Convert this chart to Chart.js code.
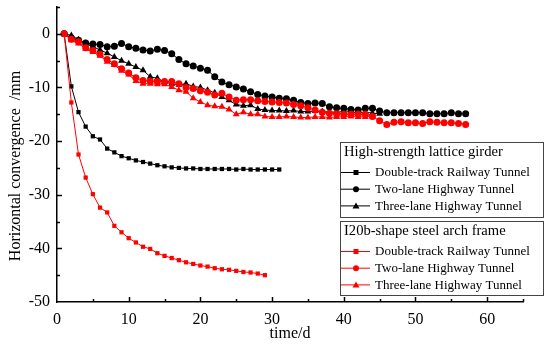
<!DOCTYPE html>
<html>
<head>
<meta charset="utf-8">
<script src="https://cdn.jsdelivr.net/npm/chart.js@4.4.1/dist/chart.umd.min.js"></script>
<style>
  html, body { margin: 0; padding: 0; background: #fff; }
  #wrap { width: 550px; height: 349px; position: relative; }
</style>
</head>
<body>
<div id="wrap"><canvas id="chart"></canvas></div>
<script>
// measured day 1, 2, 3 ... for every series
const railLattice = [0, -9.8, -14.6, -17.3, -19.1, -19.7, -21.4, -22.1, -22.8, -23.2, -23.6, -23.9, -24.2, -24.5, -24.7, -24.9,
  -25.0, -25.1, -25.1, -25.2, -25.2, -25.2, -25.2, -25.2, -25.3, -25.2, -25.3, -25.3, -25.3, -25.3, -25.3];
const twoLaneLattice = [0, -0.8, -1.2, -1.7, -1.9, -2.0, -2.4, -2.3, -1.8, -2.4, -2.7, -3.0, -3.2, -2.9, -3.1, -3.7, -4.8,
  -5.6, -6.0, -6.4, -6.8, -8.0, -9.0, -9.5, -9.9, -10.3, -10.8, -11.3, -11.6, -11.8, -12.0, -12.1, -12.4, -12.8, -13.0,
  -12.9, -13.0, -13.6, -13.8, -13.9, -14.1, -14.2, -13.9, -13.9, -14.4, -14.7, -14.7, -14.7, -14.7, -14.7, -14.7, -14.9,
  -14.9, -14.9, -14.7, -14.9, -14.9];
const threeLaneLattice = [0, -0.3, -1.1, -1.8, -2.4, -3.0, -3.6, -4.3, -5.0, -5.6, -6.2, -6.8, -8.0, -8.3, -9.0, -9.3, -9.5,
  -9.3, -9.8, -10.0, -10.5, -11.0, -11.8, -12.4, -13.2, -13.4, -13.3, -14.0, -14.2, -14.3, -14.3, -14.4, -14.3, -14.5,
  -14.5, -14.4, -14.5, -14.6, -14.6, -14.5, -14.6, -14.7, -14.6, -14.8, -14.9];
const railSteel = [0, -12.8, -22.5, -26.8, -29.9, -32.4, -33.3, -35.8, -37.0, -38.1, -38.9, -39.7, -40.1, -40.9, -41.4,
  -41.8, -42.2, -42.6, -42.9, -43.2, -43.4, -43.7, -43.9, -44.0, -44.2, -44.4, -44.5, -44.7, -45.0];
const twoLaneSteel = [0, -1.0, -1.5, -2.6, -3.1, -3.8, -4.8, -5.6, -6.5, -7.3, -8.2, -8.7, -8.8, -8.9, -8.9, -8.9, -9.3,
  -10.0, -10.2, -10.6, -10.9, -11.4, -11.1, -11.8, -12.4, -12.3, -12.3, -12.5, -12.6, -12.7, -12.8, -12.9, -13.2, -13.4,
  -13.8, -14.2, -14.6, -14.8, -14.9, -15.0, -15.0, -15.0, -15.0, -15.4, -16.2, -16.9, -16.5, -16.4, -16.6, -16.6, -16.7,
  -16.4, -16.5, -16.6, -16.6, -16.7, -16.9];
const threeLaneSteel = [0, -1.2, -1.8, -2.8, -3.4, -4.1, -5.2, -5.8, -6.9, -7.6, -8.8, -9.3, -9.3, -9.4, -9.4, -9.9, -10.5,
  -10.8, -12.0, -12.7, -13.3, -13.5, -13.6, -14.1, -15.0, -14.6, -15.0, -15.0, -15.4, -15.5, -15.5, -15.4, -15.5, -15.6,
  -15.6, -15.5, -15.5, -15.6, -15.5, -15.5, -15.4, -15.5, -15.5, -15.4];

const xTicks = [0, 10, 20, 30, 40, 50, 60];
const yTicks = [0, -10, -20, -30, -40, -50];
const groupTitles = ['High-strength lattice girder', 'I20b-shape steel arch frame'];
const seriesNames = ['Double-track Railway Tunnel', 'Two-lane Highway Tunnel', 'Three-lane Highway Tunnel'];

const serif = '"Liberation Serif", "Times New Roman", serif';
const RED = '#ff0000';

function pts(arr) { return arr.map((v, i) => ({ x: i + 1, y: v })); }

function series(label, arr, color, shape, order) {
  return {
    label: label, data: pts(arr), borderColor: color, backgroundColor: color,
    pointBackgroundColor: color, pointBorderColor: color, pointBorderWidth: 0,
    pointStyle: shape, pointRadius: shape === 'rect' ? 3 : shape === 'triangle' ? 4 : 3.5,
    borderWidth: 1, tension: 0, order: order
  };
}

function marker(ctx, shape, x, y, color) {
  ctx.fillStyle = color;
  ctx.beginPath();
  if (shape === 'rect') ctx.rect(x - 2.5, y - 2.5, 5, 5);
  else if (shape === 'circle') ctx.arc(x, y, 3, 0, Math.PI * 2);
  else { ctx.moveTo(x, y - 3.5); ctx.lineTo(x + 3.5, y + 2.5); ctx.lineTo(x - 3.5, y + 2.5); ctx.closePath(); }
  ctx.fill();
}

const decor = {
  id: 'decor',
  afterDraw(chart) {
    const ctx = chart.ctx, a = chart.chartArea, xs = chart.scales.x, ys = chart.scales.y;
    ctx.save();
    ctx.strokeStyle = '#000';
    ctx.lineWidth = 1.5;
    ctx.beginPath();
    for (let v = 5; v <= 65; v += 5) {
      const px = Math.round(xs.getPixelForValue(v)) + 0.5;
      ctx.moveTo(px, a.bottom); ctx.lineTo(px, a.bottom - (v % 10 ? 3 : 5));
    }
    for (let v = -45; v <= 5; v += 5) {
      const py = Math.round(ys.getPixelForValue(v)) + 0.5;
      ctx.moveTo(a.left, py); ctx.lineTo(a.left + (v % 10 ? 3 : 5), py);
    }
    ctx.stroke();

    // axis titles
    ctx.fillStyle = '#000';
    ctx.font = '16px ' + serif;
    ctx.textAlign = 'center';
    ctx.textBaseline = 'middle';
    ctx.fillText('time/d', (a.left + a.right) / 2, 334);
    ctx.translate(16, 166);
    ctx.rotate(-Math.PI / 2);
    ctx.fillText('Horizontal convergence  /mm', 0, 0);
    ctx.restore();

    // legend
    ctx.save();
    const boxes = [{ top: 142, bottom: 217, color: '#000' }, { top: 221, bottom: 295, color: RED }];
    const shapes = ['rect', 'circle', 'triangle'];
    boxes.forEach((b, g) => {
      ctx.strokeStyle = '#444';
      ctx.lineWidth = 1;
      ctx.strokeRect(340.5, b.top + 0.5, 203, b.bottom - b.top);
      ctx.fillStyle = '#000';
      ctx.font = '14.6px ' + serif;
      ctx.textAlign = 'left';
      ctx.textBaseline = 'middle';
      ctx.fillText(groupTitles[g], 344, b.top + 10);
      seriesNames.forEach((name, i) => {
        const y = b.top + 30.5 + i * 16.7;
        ctx.strokeStyle = b.color;
        ctx.beginPath(); ctx.moveTo(341, y); ctx.lineTo(370, y); ctx.stroke();
        marker(ctx, shapes[i], 356, y, b.color);
        ctx.fillStyle = '#000';
        ctx.font = '13px ' + serif;
        ctx.fillText(name, 375, y + 0.5);
      });
    });
    ctx.restore();
  }
};

new Chart(document.getElementById('chart'), {
  type: 'line',
  data: {
    datasets: [
      series(groupTitles[0] + ' ' + seriesNames[0], railLattice, '#000', 'rect', 1),
      series(groupTitles[0] + ' ' + seriesNames[1], twoLaneLattice, '#000', 'circle', 1),
      series(groupTitles[0] + ' ' + seriesNames[2], threeLaneLattice, '#000', 'triangle', 1),
      series(groupTitles[1] + ' ' + seriesNames[0], railSteel, RED, 'rect', 0),
      series(groupTitles[1] + ' ' + seriesNames[1], twoLaneSteel, RED, 'circle', 0),
      series(groupTitles[1] + ' ' + seriesNames[2], threeLaneSteel, RED, 'triangle', 0)
    ]
  },
  options: {
    responsive: true,
    maintainAspectRatio: false,
    animation: false,
    layout: { padding: { left: 0, right: 27, top: 7, bottom: 0 } },
    plugins: { legend: { display: false }, tooltip: { enabled: false } },
    scales: {
      x: {
        type: 'linear', min: 0, max: 65,
        afterFit: s => { s.height = 47; s.paddingLeft = 0; s.paddingRight = 0; },
        afterBuildTicks: s => { s.ticks = xTicks.map(v => ({ value: v })); },
        grid: { display: false, drawTicks: false },
        border: { display: true, color: '#000', width: 1.5 },
        ticks: { color: '#000', padding: 8, font: { family: serif, size: 16 } }
      },
      y: {
        type: 'linear', min: -50, max: 5,
        afterFit: s => { s.width = 57; s.paddingTop = 0; s.paddingBottom = 0; },
        afterBuildTicks: s => { s.ticks = yTicks.map(v => ({ value: v })); },
        grid: { display: false, drawTicks: false },
        border: { display: true, color: '#000', width: 1.5 },
        ticks: { color: '#000', padding: 7, font: { family: serif, size: 16 } }
      }
    }
  },
  plugins: [decor]
});
</script>
</body>
</html>
